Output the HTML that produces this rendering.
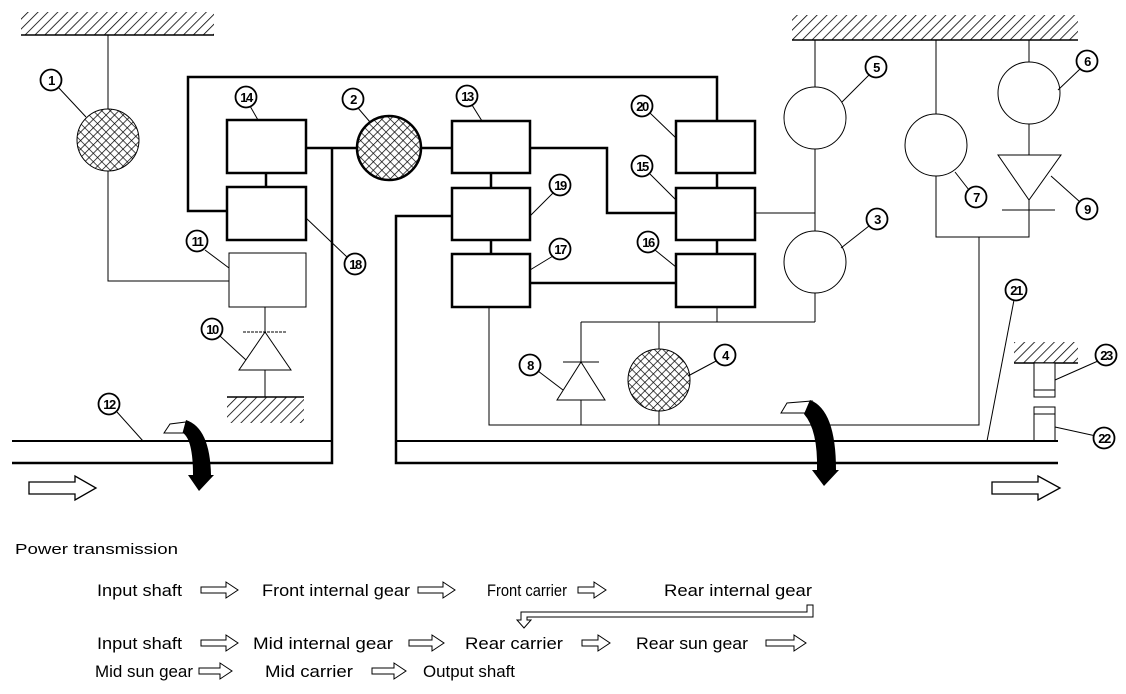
<!DOCTYPE html>
<html><head><meta charset="utf-8"><style>
html,body{margin:0;padding:0;background:#fff;}
svg{display:block;}
text{font-family:"Liberation Sans",sans-serif;}
</style></head><body>
<svg width="1126" height="694" viewBox="0 0 1126 694" xmlns="http://www.w3.org/2000/svg">
<defs>
<pattern id="h" width="7" height="7" patternUnits="userSpaceOnUse" patternTransform="rotate(45)">
<line x1="0" y1="0" x2="0" y2="7" stroke="#000" stroke-width="1.6"/></pattern>
<pattern id="x" width="6" height="6" patternUnits="userSpaceOnUse" patternTransform="rotate(45)">
<rect width="6" height="6" fill="#fff"/>
<line x1="0" y1="0" x2="0" y2="6" stroke="#000" stroke-width="1.4"/>
<line x1="0" y1="0" x2="6" y2="0" stroke="#000" stroke-width="1.4"/></pattern>
</defs>
<g fill="none" stroke="#000">
<rect x="21" y="12" width="193" height="23" fill="url(#h)" stroke="none"/>
<line x1="21" y1="35" x2="214" y2="35" stroke-width="1.5"/>
<rect x="792" y="15" width="286" height="25" fill="url(#h)" stroke="none"/>
<line x1="792" y1="40" x2="1078" y2="40" stroke-width="1.5"/>
<rect x="227" y="397" width="77" height="26" fill="url(#h)" stroke="none"/>
<line x1="227" y1="397" x2="304" y2="397" stroke-width="1.5"/>
<rect x="1014" y="342" width="64" height="21" fill="url(#h)" stroke="none"/>
<line x1="1014" y1="363" x2="1078" y2="363" stroke-width="1.5"/>

<g stroke-width="1">
<polyline points="108,35 108,281 229,281"/>
<line x1="265" y1="307" x2="265" y2="397"/>
<line x1="243" y1="332" x2="286" y2="332" stroke-dasharray="3,1"/>
<polygon points="265,332 239,370 291,370" fill="#fff"/>
<line x1="755" y1="213" x2="815" y2="213"/>
<line x1="815" y1="40" x2="815" y2="322"/>
<line x1="581" y1="322" x2="815" y2="322"/>
<line x1="717" y1="307" x2="717" y2="322"/>
<line x1="659" y1="322" x2="659" y2="425"/>
<line x1="581" y1="322" x2="581" y2="425"/>
<line x1="563" y1="362" x2="599" y2="362"/>
<polygon points="581,362 557,400 605,400" fill="#fff"/>
<polyline points="489,307 489,425 979,425 979,237"/>
<polyline points="936,40 936,237 1029,237 1029,40"/>
<polygon points="998,155 1061,155 1029,200" fill="#fff"/>
<line x1="1002" y1="210" x2="1055" y2="210"/>
<circle cx="815" cy="118" r="31" fill="#fff"/>
<circle cx="815" cy="262" r="31" fill="#fff"/>
<circle cx="936" cy="145" r="31" fill="#fff"/>
<circle cx="1029" cy="93" r="31" fill="#fff"/>
<rect x="229" y="253" width="77" height="54" fill="#fff"/>
<rect x="1034" y="363" width="21" height="34" fill="#fff"/>
<line x1="1034" y1="390" x2="1055" y2="390"/>
<rect x="1034" y="407" width="21" height="34" fill="#fff"/>
<line x1="1034" y1="414" x2="1055" y2="414"/>
<line x1="12" y1="441" x2="332" y2="441" stroke-width="2"/>
<line x1="396" y1="441" x2="1058" y2="441" stroke-width="2"/>
</g>
<circle cx="108" cy="140" r="31" fill="url(#x)" stroke-width="1"/>
<circle cx="659" cy="380" r="31" fill="url(#x)" stroke-width="1"/>
<circle cx="389" cy="148" r="32" fill="url(#x)" stroke-width="2.5"/>

<g stroke-width="2.5">
<polyline points="227,211 188,211 188,77 717,77 717,120"/>
<line x1="266" y1="173" x2="266" y2="187"/>
<line x1="306" y1="148" x2="357" y2="148"/>
<polyline points="332,148 332,463 12,463"/>
<line x1="421" y1="148" x2="452" y2="148"/>
<polyline points="530,148 607,148 607,213 676,213"/>
<polyline points="452,216 396,216 396,463 1058,463"/>
<line x1="491" y1="173" x2="491" y2="187"/>
<line x1="491" y1="240" x2="491" y2="253"/>
<line x1="717" y1="173" x2="717" y2="187"/>
<line x1="717" y1="240" x2="717" y2="253"/>
<line x1="530" y1="283" x2="676" y2="283"/>
<rect x="227" y="120" width="79" height="53" fill="#fff"/>
<rect x="227" y="187" width="79" height="53" fill="#fff"/>
<rect x="452" y="121" width="78" height="52" fill="#fff"/>
<rect x="452" y="188" width="78" height="52" fill="#fff"/>
<rect x="452" y="254" width="78" height="53" fill="#fff"/>
<rect x="676" y="121" width="79" height="52" fill="#fff"/>
<rect x="676" y="188" width="79" height="52" fill="#fff"/>
<rect x="676" y="254" width="79" height="53" fill="#fff"/>
</g>

<path d="M164,433 L170,424 L186,422 L183,433 Z" fill="#fff" stroke-width="1"/>
<path d="M186,420 Q210,428 211,475 L214,475 L199,491 L188,475 L193,475 Q193,440 183,433 Z" fill="#000" stroke="none"/>
<path d="M781,413 L787,403 L812,401 L805,413 Z" fill="#fff" stroke-width="1"/>
<path d="M810,400 Q836,410 836,470 L839,470 L824,486 L812,470 L817,470 Q818,430 804,414 Z" fill="#000" stroke="none"/>
<polygon points="29,482 75,482 75,476 96,488 75,500 75,494 29,494" fill="#fff" stroke-width="1.3"/>
<polygon points="992,482 1038,482 1038,476 1060,488 1038,500 1038,494 992,494" fill="#fff" stroke-width="1.3"/>

<g stroke-width="1">
<line x1="58" y1="87" x2="86" y2="117"/>
<line x1="250" y1="106" x2="258" y2="120"/>
<line x1="358" y1="108" x2="370" y2="122"/>
<line x1="472" y1="105" x2="482" y2="121"/>
<line x1="347" y1="257" x2="306" y2="218"/>
<line x1="205" y1="250" x2="229" y2="268"/>
<line x1="220" y1="336" x2="246" y2="360"/>
<line x1="117" y1="412" x2="143" y2="441"/>
<line x1="553" y1="193" x2="530" y2="216"/>
<line x1="553" y1="256" x2="530" y2="270"/>
<line x1="650" y1="113" x2="676" y2="138"/>
<line x1="650" y1="174" x2="676" y2="200"/>
<line x1="655" y1="250" x2="676" y2="267"/>
<line x1="869" y1="75" x2="842" y2="102"/>
<line x1="869" y1="226" x2="841" y2="248"/>
<line x1="1080" y1="69" x2="1058" y2="90"/>
<line x1="969" y1="190" x2="955" y2="172"/>
<line x1="1080" y1="202" x2="1051" y2="176"/>
<line x1="718" y1="360" x2="688" y2="376"/>
<line x1="538" y1="371" x2="563" y2="390"/>
<line x1="1014" y1="300" x2="987" y2="441"/>
<line x1="1098" y1="361" x2="1055" y2="380"/>
<line x1="1096" y1="436" x2="1055" y2="427"/>
</g>
</g>

<g font-weight="bold" text-anchor="middle">
<g fill="#fff" stroke="#000" stroke-width="1.8">
<circle cx="51" cy="80" r="10.5"/><circle cx="246" cy="97" r="10.5"/><circle cx="353" cy="99" r="10.5"/>
<circle cx="467" cy="96" r="10.5"/><circle cx="355" cy="264" r="10.5"/><circle cx="197" cy="241" r="10.5"/>
<circle cx="212" cy="329" r="10.5"/><circle cx="109" cy="404" r="10.5"/><circle cx="560" cy="185" r="10.5"/>
<circle cx="560" cy="249" r="10.5"/><circle cx="642" cy="106" r="10.5"/><circle cx="642" cy="166" r="10.5"/>
<circle cx="648" cy="242" r="10.5"/><circle cx="876" cy="67" r="10.5"/><circle cx="877" cy="219" r="10.5"/>
<circle cx="1087" cy="61" r="10.5"/><circle cx="976" cy="197" r="10.5"/><circle cx="1087" cy="209" r="10.5"/>
<circle cx="725" cy="355" r="10.5"/><circle cx="530" cy="365" r="10.5"/><circle cx="1016" cy="290" r="10.5"/>
<circle cx="1106" cy="355" r="10.5"/><circle cx="1104" cy="438" r="10.5"/>
</g>
<g font-size="13" letter-spacing="-1.5">
<text x="51" y="85">1</text><text x="246" y="102">14</text><text x="353" y="104">2</text>
<text x="467" y="101">13</text><text x="355" y="269">18</text><text x="197" y="246">11</text>
<text x="212" y="334">10</text><text x="109" y="409">12</text><text x="560" y="190">19</text>
<text x="560" y="254">17</text><text x="642" y="111">20</text><text x="642" y="171">15</text>
<text x="648" y="247">16</text><text x="876" y="72">5</text><text x="877" y="224">3</text>
<text x="1087" y="66">6</text><text x="976" y="202">7</text><text x="1087" y="214">9</text>
<text x="725" y="360">4</text><text x="530" y="370">8</text><text x="1016" y="295">21</text>
<text x="1106" y="360">23</text><text x="1104" y="443">22</text>
</g>
</g>

<g font-size="17" fill="#000">
<text x="15" y="554" font-size="15" textLength="163" lengthAdjust="spacingAndGlyphs">Power transmission</text>
<text x="97" y="596" textLength="85" lengthAdjust="spacingAndGlyphs">Input shaft</text>
<text x="262" y="596" textLength="148" lengthAdjust="spacingAndGlyphs">Front internal gear</text>
<text x="487" y="596" textLength="80" lengthAdjust="spacingAndGlyphs">Front carrier</text>
<text x="664" y="596" textLength="148" lengthAdjust="spacingAndGlyphs">Rear internal gear</text>
<text x="97" y="649" textLength="85" lengthAdjust="spacingAndGlyphs">Input shaft</text>
<text x="253" y="649" textLength="140" lengthAdjust="spacingAndGlyphs">Mid internal gear</text>
<text x="465" y="649" textLength="98" lengthAdjust="spacingAndGlyphs">Rear carrier</text>
<text x="636" y="649" textLength="112" lengthAdjust="spacingAndGlyphs">Rear sun gear</text>
<text x="95" y="677" textLength="98" lengthAdjust="spacingAndGlyphs">Mid sun gear</text>
<text x="265" y="677" textLength="88" lengthAdjust="spacingAndGlyphs">Mid carrier</text>
<text x="423" y="677" textLength="92" lengthAdjust="spacingAndGlyphs">Output shaft</text>
</g>
<g fill="#fff" stroke="#000" stroke-width="1">
<polygon points="201,587 226,587 226,582 238,590 226,598 226,593 201,593"/>
<polygon points="418,587 443,587 443,582 455,590 443,598 443,593 418,593"/>
<polygon points="578,587 594,587 594,582 606,590 594,598 594,593 578,593"/>
<polygon points="201,640 226,640 226,635 238,643 226,651 226,646 201,646"/>
<polygon points="409,640 432,640 432,635 444,643 432,651 432,646 409,646"/>
<polygon points="582,640 598,640 598,635 610,643 598,651 598,646 582,646"/>
<polygon points="766,640 794,640 794,635 806,643 794,651 794,646 766,646"/>
<polygon points="199,668 220,668 220,663 232,671 220,679 220,674 199,674"/>
<polygon points="372,668 394,668 394,663 406,671 394,679 394,674 372,674"/>
<polygon points="807,605 813,605 813,617 527,617 527,620 531,620 524,628 517,620 521,620 521,612 807,612"/>
</g>
</svg>
</body></html>
